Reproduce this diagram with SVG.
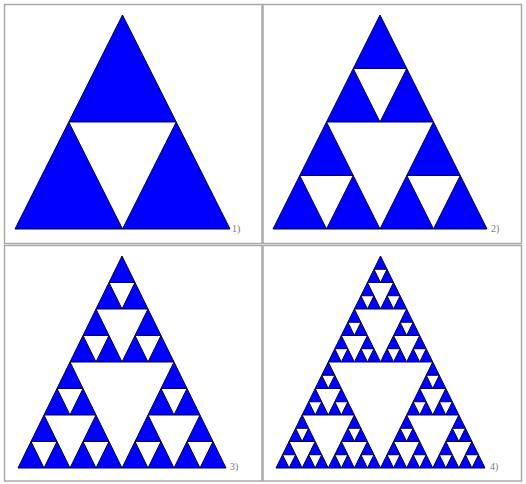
<svg xmlns="http://www.w3.org/2000/svg" xmlns:xlink="http://www.w3.org/1999/xlink" width="526" height="484" viewBox="0 0 526 484">
<style>
.frame{fill:#ffffff;stroke:#a8a8a8;stroke-width:1.5}
.lbl{font-family:"Liberation Serif",serif;font-size:10px;fill:#777777}
</style>
<defs>
<polygon id="t0" points="0,1 0.5,0 1,1" fill="#0000ff" stroke="#000040" stroke-width="1" vector-effect="non-scaling-stroke" stroke-linejoin="miter"/>
<g id="t1"><use href="#t0" transform="translate(0.25,0) scale(0.5)"/><use href="#t0" transform="translate(0,0.5) scale(0.5)"/><use href="#t0" transform="translate(0.5,0.5) scale(0.5)"/></g>
<g id="t2"><use href="#t1" transform="translate(0.25,0) scale(0.5)"/><use href="#t1" transform="translate(0,0.5) scale(0.5)"/><use href="#t1" transform="translate(0.5,0.5) scale(0.5)"/></g>
<g id="t3"><use href="#t2" transform="translate(0.25,0) scale(0.5)"/><use href="#t2" transform="translate(0,0.5) scale(0.5)"/><use href="#t2" transform="translate(0.5,0.5) scale(0.5)"/></g>
<g id="t4"><use href="#t3" transform="translate(0.25,0) scale(0.5)"/><use href="#t3" transform="translate(0,0.5) scale(0.5)"/><use href="#t3" transform="translate(0.5,0.5) scale(0.5)"/></g>
</defs>
<rect width="526" height="484" fill="#ffffff"/>
<g id="panel1">
<rect class="frame" x="4.5" y="4.5" width="257.5" height="239"/>
<use href="#t1" transform="translate(15,15) scale(215,214)"/>
<text class="lbl" x="232" y="232">1)</text>
</g>
<g id="panel2">
<rect class="frame" x="263" y="4.5" width="258.5" height="239"/>
<use href="#t2" transform="translate(273,15) scale(214,214)"/>
<text class="lbl" x="491" y="232">2)</text>
</g>
<g id="panel3">
<rect class="frame" x="4.5" y="245.5" width="257.5" height="235.5"/>
<use href="#t3" transform="translate(18,256) scale(208,212)"/>
<text class="lbl" x="230" y="470">3)</text>
</g>
<g id="panel4">
<rect class="frame" x="263" y="245.5" width="258.5" height="235.5"/>
<use href="#t4" transform="translate(276,256) scale(209,212)"/>
<text class="lbl" x="490" y="470">4)</text>
</g>
</svg>
